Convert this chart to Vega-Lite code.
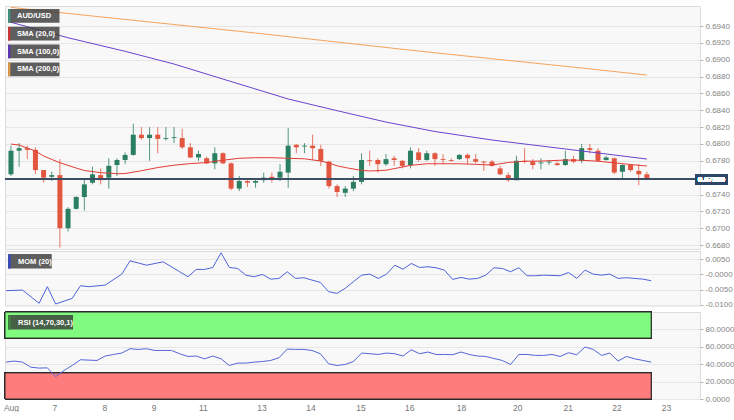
{
  "$schema": "https://vega.github.io/schema/vega-lite/v6.json",
  "padding": {"left": 2, "top": 5, "right": 0, "bottom": 0},
  "background": "white",
  "config": {
    "view": {"fill": "#f8f8f8", "stroke": "#dcdcdc"},
    "font": "Liberation Sans",
    "axis": {"labelFont": "Liberation Sans", "labelFontSize": 8, "labelColor": "#858585", "gridColor": "#e6e6e6", "tickColor": "#b5b5b5", "domain": false, "title": null, "labelOverlap": false}
  },
  "datasets": {
    "candles": [
      {"i":0,"o":0.6764,"h":0.6798,"l":0.6762,"c":0.6792},
      {"i":1,"o":0.6792,"h":0.6801,"l":0.6773,"c":0.6795},
      {"i":2,"o":0.6795,"h":0.6798,"l":0.6782,"c":0.6793},
      {"i":3,"o":0.6793,"h":0.6796,"l":0.6764,"c":0.6769},
      {"i":4,"o":0.6769,"h":0.6769,"l":0.6754,"c":0.6760},
      {"i":5,"o":0.6761,"h":0.6767,"l":0.6756,"c":0.6763},
      {"i":6,"o":0.6763,"h":0.6782,"l":0.6677,"c":0.6700},
      {"i":7,"o":0.6700,"h":0.6725,"l":0.6696,"c":0.6723},
      {"i":8,"o":0.6723,"h":0.6738,"l":0.6722,"c":0.6737},
      {"i":9,"o":0.6737,"h":0.6759,"l":0.6721,"c":0.6752},
      {"i":10,"o":0.6754,"h":0.6773,"l":0.6752,"c":0.6764},
      {"i":11,"o":0.6763,"h":0.6771,"l":0.6752,"c":0.6757},
      {"i":12,"o":0.6760,"h":0.6783,"l":0.6747,"c":0.6774},
      {"i":13,"o":0.6775,"h":0.6783,"l":0.6762,"c":0.6781},
      {"i":14,"o":0.6781,"h":0.6790,"l":0.6776,"c":0.6787},
      {"i":15,"o":0.6787,"h":0.6824,"l":0.6786,"c":0.6811},
      {"i":16,"o":0.6811,"h":0.6820,"l":0.6805,"c":0.6807},
      {"i":17,"o":0.6807,"h":0.6820,"l":0.6780,"c":0.6811},
      {"i":18,"o":0.6811,"h":0.6820,"l":0.6789,"c":0.6806},
      {"i":19,"o":0.6806,"h":0.6820,"l":0.6804,"c":0.6807},
      {"i":20,"o":0.6807,"h":0.6820,"l":0.6801,"c":0.6808},
      {"i":21,"o":0.6807,"h":0.6818,"l":0.6794,"c":0.6796},
      {"i":22,"o":0.6796,"h":0.6801,"l":0.6783,"c":0.6784},
      {"i":23,"o":0.6784,"h":0.6792,"l":0.6780,"c":0.6788},
      {"i":24,"o":0.6783,"h":0.6785,"l":0.6776,"c":0.6777},
      {"i":25,"o":0.6777,"h":0.6796,"l":0.6770,"c":0.6789},
      {"i":26,"o":0.6789,"h":0.6790,"l":0.6776,"c":0.6777},
      {"i":27,"o":0.6777,"h":0.6778,"l":0.6745,"c":0.6747},
      {"i":28,"o":0.6747,"h":0.6762,"l":0.6744,"c":0.6756},
      {"i":29,"o":0.6756,"h":0.6757,"l":0.6749,"c":0.6754},
      {"i":30,"o":0.6754,"h":0.6758,"l":0.6748,"c":0.6756},
      {"i":31,"o":0.6757,"h":0.6766,"l":0.6754,"c":0.6760},
      {"i":32,"o":0.6761,"h":0.6766,"l":0.6754,"c":0.6758},
      {"i":33,"o":0.6760,"h":0.6776,"l":0.6756,"c":0.6767},
      {"i":34,"o":0.6766,"h":0.6819,"l":0.6748,"c":0.6798},
      {"i":35,"o":0.6799,"h":0.6800,"l":0.6789,"c":0.6796},
      {"i":36,"o":0.6797,"h":0.6801,"l":0.6789,"c":0.6798},
      {"i":37,"o":0.6798,"h":0.6811,"l":0.6781,"c":0.6795},
      {"i":38,"o":0.6794,"h":0.6799,"l":0.6774,"c":0.6780},
      {"i":39,"o":0.6779,"h":0.6780,"l":0.6747,"c":0.6750},
      {"i":40,"o":0.6750,"h":0.6752,"l":0.6737,"c":0.6743},
      {"i":41,"o":0.6742,"h":0.6750,"l":0.6737,"c":0.6747},
      {"i":42,"o":0.6747,"h":0.6762,"l":0.6744,"c":0.6755},
      {"i":43,"o":0.6755,"h":0.6789,"l":0.6752,"c":0.6781},
      {"i":44,"o":0.6781,"h":0.6792,"l":0.6774,"c":0.6780},
      {"i":45,"o":0.6781,"h":0.6783,"l":0.6766,"c":0.6776},
      {"i":46,"o":0.6776,"h":0.6788,"l":0.6774,"c":0.6782},
      {"i":47,"o":0.6783,"h":0.6786,"l":0.6774,"c":0.6781},
      {"i":48,"o":0.6780,"h":0.6781,"l":0.6771,"c":0.6774},
      {"i":49,"o":0.6775,"h":0.6796,"l":0.6771,"c":0.6792},
      {"i":50,"o":0.6790,"h":0.6795,"l":0.6779,"c":0.6781},
      {"i":51,"o":0.6781,"h":0.6792,"l":0.6780,"c":0.6789},
      {"i":52,"o":0.6789,"h":0.6790,"l":0.6774,"c":0.6782},
      {"i":53,"o":0.6782,"h":0.6788,"l":0.6776,"c":0.6781},
      {"i":54,"o":0.6781,"h":0.6783,"l":0.6779,"c":0.6780},
      {"i":55,"o":0.6782,"h":0.6788,"l":0.6781,"c":0.6787},
      {"i":56,"o":0.6787,"h":0.6789,"l":0.6776,"c":0.6783},
      {"i":57,"o":0.6782,"h":0.6788,"l":0.6777,"c":0.6779},
      {"i":58,"o":0.6779,"h":0.6780,"l":0.6768,"c":0.6778},
      {"i":59,"o":0.6779,"h":0.6781,"l":0.6773,"c":0.6774},
      {"i":60,"o":0.6771,"h":0.6774,"l":0.6763,"c":0.6764},
      {"i":61,"o":0.6763,"h":0.6766,"l":0.6755,"c":0.6757},
      {"i":62,"o":0.6757,"h":0.6786,"l":0.6757,"c":0.6780},
      {"i":63,"o":0.6780,"h":0.6795,"l":0.6777,"c":0.6779},
      {"i":64,"o":0.6779,"h":0.6782,"l":0.6770,"c":0.6775},
      {"i":65,"o":0.6777,"h":0.6783,"l":0.6770,"c":0.6778},
      {"i":66,"o":0.6778,"h":0.6781,"l":0.6775,"c":0.6779},
      {"i":67,"o":0.6777,"h":0.6779,"l":0.6774,"c":0.6775},
      {"i":68,"o":0.6775,"h":0.6792,"l":0.6774,"c":0.6782},
      {"i":69,"o":0.6782,"h":0.6786,"l":0.6777,"c":0.6779},
      {"i":70,"o":0.6780,"h":0.6800,"l":0.6777,"c":0.6795},
      {"i":71,"o":0.6795,"h":0.6800,"l":0.6789,"c":0.6793},
      {"i":72,"o":0.6792,"h":0.6795,"l":0.6779,"c":0.6780},
      {"i":73,"o":0.6781,"h":0.6786,"l":0.6780,"c":0.6784},
      {"i":74,"o":0.6783,"h":0.6784,"l":0.6764,"c":0.6766},
      {"i":75,"o":0.6767,"h":0.6776,"l":0.6758,"c":0.6775},
      {"i":76,"o":0.6775,"h":0.6776,"l":0.6767,"c":0.6769},
      {"i":77,"o":0.6768,"h":0.6776,"l":0.6751,"c":0.6764},
      {"i":78,"o":0.6764,"h":0.6767,"l":0.6758,"c":0.6758}
    ],
    "sma": [
      {"s":"SMA (200,0)","i":0,"v":0.69622},{"s":"SMA (200,0)","i":10,"v":0.69519},{"s":"SMA (200,0)","i":20,"v":0.69418},
      {"s":"SMA (200,0)","i":30,"v":0.69317},{"s":"SMA (200,0)","i":40,"v":0.69210},{"s":"SMA (200,0)","i":50,"v":0.69103},
      {"s":"SMA (200,0)","i":60,"v":0.69002},{"s":"SMA (200,0)","i":70,"v":0.68902},{"s":"SMA (200,0)","i":78,"v":0.68818},
      {"s":"SMA (100,0)","i":0,"v":0.69445},{"s":"SMA (100,0)","i":7,"v":0.69261},{"s":"SMA (100,0)","i":14,"v":0.69100},
      {"s":"SMA (100,0)","i":20,"v":0.68949},{"s":"SMA (100,0)","i":27,"v":0.68741},{"s":"SMA (100,0)","i":34,"v":0.68534},
      {"s":"SMA (100,0)","i":40,"v":0.68395},{"s":"SMA (100,0)","i":46,"v":0.68260},{"s":"SMA (100,0)","i":52,"v":0.68148},
      {"s":"SMA (100,0)","i":59,"v":0.68047},{"s":"SMA (100,0)","i":66,"v":0.67964},{"s":"SMA (100,0)","i":72,"v":0.67893},
      {"s":"SMA (100,0)","i":78,"v":0.67821},
      {"s":"SMA (20,0)","i":0,"v":0.67999},{"s":"SMA (20,0)","i":1,"v":0.67987},{"s":"SMA (20,0)","i":3,"v":0.67916},
      {"s":"SMA (20,0)","i":4,"v":0.67857},{"s":"SMA (20,0)","i":6,"v":0.67777},{"s":"SMA (20,0)","i":8,"v":0.67714},
      {"s":"SMA (20,0)","i":9,"v":0.67685},{"s":"SMA (20,0)","i":11,"v":0.67659},{"s":"SMA (20,0)","i":13,"v":0.67647},
      {"s":"SMA (20,0)","i":14,"v":0.67649},{"s":"SMA (20,0)","i":16,"v":0.67682},{"s":"SMA (20,0)","i":18,"v":0.67720},
      {"s":"SMA (20,0)","i":20,"v":0.67748},{"s":"SMA (20,0)","i":22,"v":0.67767},{"s":"SMA (20,0)","i":24,"v":0.67779},
      {"s":"SMA (20,0)","i":26,"v":0.67807},{"s":"SMA (20,0)","i":28,"v":0.67830},{"s":"SMA (20,0)","i":30,"v":0.67837},
      {"s":"SMA (20,0)","i":32,"v":0.67837},{"s":"SMA (20,0)","i":34,"v":0.67830},{"s":"SMA (20,0)","i":36,"v":0.67824},
      {"s":"SMA (20,0)","i":38,"v":0.67797},{"s":"SMA (20,0)","i":39,"v":0.67774},{"s":"SMA (20,0)","i":40,"v":0.67741},
      {"s":"SMA (20,0)","i":41,"v":0.67720},{"s":"SMA (20,0)","i":43,"v":0.67686},{"s":"SMA (20,0)","i":44,"v":0.67679},
      {"s":"SMA (20,0)","i":46,"v":0.67688},{"s":"SMA (20,0)","i":48,"v":0.67726},{"s":"SMA (20,0)","i":49,"v":0.67746},
      {"s":"SMA (20,0)","i":51,"v":0.67765},{"s":"SMA (20,0)","i":53,"v":0.67765},{"s":"SMA (20,0)","i":55,"v":0.67765},
      {"s":"SMA (20,0)","i":57,"v":0.67758},{"s":"SMA (20,0)","i":59,"v":0.67750},{"s":"SMA (20,0)","i":61,"v":0.67780},
      {"s":"SMA (20,0)","i":63,"v":0.67795},{"s":"SMA (20,0)","i":65,"v":0.67797},{"s":"SMA (20,0)","i":68,"v":0.67809},
      {"s":"SMA (20,0)","i":70,"v":0.67807},{"s":"SMA (20,0)","i":72,"v":0.67795},{"s":"SMA (20,0)","i":74,"v":0.67776},
      {"s":"SMA (20,0)","i":76,"v":0.67756},{"s":"SMA (20,0)","i":78,"v":0.67738}
    ],
    "mom": [
      {"i":0,"v":-0.00533},{"i":2,"v":-0.00513},{"i":4,"v":-0.00948},{"i":5,"v":-0.00402},{"i":6,"v":-0.00971},
      {"i":8,"v":-0.00785},{"i":9,"v":-0.00370},{"i":10,"v":-0.00402},{"i":12,"v":-0.00350},{"i":14,"v":0.00010},
      {"i":15,"v":0.00448},{"i":17,"v":0.00304},{"i":19,"v":0.00415},{"i":21,"v":0.00088},{"i":22,"v":-0.00075},
      {"i":23,"v":0.00164},{"i":24,"v":0.00164},{"i":25,"v":0.00229},{"i":26,"v":0.00710},{"i":27,"v":0.00229},
      {"i":28,"v":0.00196},{"i":29,"v":-0.00023},{"i":30,"v":-0.00075},{"i":31,"v":0.0},{"i":32,"v":-0.00154},
      {"i":33,"v":-0.00131},{"i":34,"v":0.00088},{"i":35,"v":-0.00131},{"i":36,"v":-0.00108},{"i":37,"v":-0.00186},
      {"i":38,"v":-0.00262},{"i":39,"v":-0.00566},{"i":40,"v":-0.00621},{"i":41,"v":-0.00458},{"i":42,"v":-0.00239},
      {"i":43,"v":-0.00023},{"i":44,"v":0.00010},{"i":45,"v":-0.00131},{"i":46,"v":0.00010},{"i":47,"v":0.00304},
      {"i":48,"v":0.00173},{"i":49,"v":0.00360},{"i":50,"v":0.00229},{"i":51,"v":0.00252},{"i":52,"v":0.00219},
      {"i":53,"v":0.00141},{"i":54,"v":-0.00164},{"i":55,"v":-0.00098},{"i":56,"v":-0.00154},{"i":57,"v":-0.00131},
      {"i":58,"v":-0.00023},{"i":59,"v":0.00219},{"i":60,"v":0.00196},{"i":61,"v":0.00088},{"i":62,"v":0.00219},
      {"i":63,"v":-0.00043},{"i":64,"v":-0.00043},{"i":65,"v":-0.00023},{"i":67,"v":-0.00043},{"i":68,"v":0.00065},
      {"i":69,"v":-0.00131},{"i":70,"v":0.00141},{"i":71,"v":0.00010},{"i":72,"v":-0.00023},{"i":73,"v":0.00010},
      {"i":74,"v":-0.00131},{"i":75,"v":-0.00108},{"i":77,"v":-0.00154},{"i":78,"v":-0.00206}
    ],
    "rsi": [
      {"i":0,"v":42.4},{"i":1,"v":43.6},{"i":2,"v":42.4},{"i":3,"v":36.6},{"i":4,"v":35.5},{"i":5,"v":35.8},
      {"i":6,"v":25.8},{"i":7,"v":32.7},{"i":8,"v":38.5},{"i":9,"v":45.1},{"i":11,"v":44.3},{"i":12,"v":49.4},
      {"i":13,"v":51.2},{"i":14,"v":52.8},{"i":15,"v":57.8},{"i":16,"v":57.0},{"i":17,"v":57.8},{"i":18,"v":55.8},
      {"i":19,"v":55.8},{"i":20,"v":55.8},{"i":21,"v":52.0},{"i":22,"v":48.9},{"i":23,"v":49.4},{"i":24,"v":46.2},
      {"i":25,"v":49.4},{"i":26,"v":46.2},{"i":27,"v":38.5},{"i":28,"v":41.3},{"i":29,"v":41.3},{"i":30,"v":42.4},
      {"i":31,"v":43.1},{"i":32,"v":44.3},{"i":33,"v":47.4},{"i":34,"v":57.4},{"i":35,"v":57.0},{"i":36,"v":57.0},
      {"i":37,"v":55.8},{"i":38,"v":52.0},{"i":39,"v":40.5},{"i":40,"v":38.5},{"i":41,"v":39.7},{"i":42,"v":43.1},
      {"i":43,"v":52.8},{"i":44,"v":52.0},{"i":45,"v":51.2},{"i":46,"v":52.8},{"i":47,"v":52.0},{"i":48,"v":49.4},
      {"i":49,"v":56.6},{"i":50,"v":52.0},{"i":51,"v":54.0},{"i":52,"v":51.2},{"i":53,"v":51.2},{"i":54,"v":50.9},
      {"i":55,"v":54.0},{"i":56,"v":51.2},{"i":57,"v":49.4},{"i":58,"v":48.9},{"i":60,"v":44.3},{"i":61,"v":39.7},
      {"i":62,"v":51.2},{"i":63,"v":51.2},{"i":64,"v":50.1},{"i":65,"v":50.1},{"i":66,"v":51.2},{"i":67,"v":48.9},
      {"i":68,"v":53.2},{"i":69,"v":50.9},{"i":70,"v":59.8},{"i":71,"v":57.0},{"i":72,"v":50.1},{"i":73,"v":52.8},
      {"i":74,"v":43.6},{"i":75,"v":48.9},{"i":76,"v":46.2},{"i":77,"v":44.3},{"i":78,"v":42.4}
    ]
  },
  "spacing": 0,
  "resolve": {"scale": {"color": "independent", "x": "independent", "y": "independent"}, "legend": {"color": "independent"}},
  "vconcat": [
    {
      "width": 695,
      "height": 243,
      "layer": [
        {
          "data": {"name": "candles"},
          "mark": {"type": "rule", "clip": true, "strokeWidth": 1, "opacity": 0.8},
          "encoding": {
            "x": {"field": "i", "type": "quantitative", "scale": {"domain": [-0.12, 83.9], "nice": false, "zero": false}, "axis": null},
            "y": {"field": "l", "type": "quantitative", "scale": {"domain": [0.66753, 0.69638], "nice": false, "zero": false},
              "axis": {"orient": "right", "values": [0.668, 0.670, 0.672, 0.674, 0.678, 0.680, 0.682, 0.684, 0.686, 0.688, 0.690, 0.692, 0.694], "format": ".4f", "tickSize": 3, "labelPadding": 2, "grid": true, "labelOverlap": false, "labelSeparation": 0}},
            "y2": {"field": "h"},
            "color": {"condition": {"test": "datum.c >= datum.o", "value": "#2a7f62"}, "value": "#e2553f"}
          }
        },
        {
          "data": {"name": "candles"},
          "mark": {"type": "bar", "clip": true, "size": 5},
          "encoding": {
            "x": {"field": "i", "type": "quantitative", "scale": {"domain": [-0.12, 83.9], "nice": false, "zero": false}, "axis": null},
            "y": {"field": "o", "type": "quantitative", "scale": {"domain": [0.66753, 0.69638], "nice": false, "zero": false},
              "axis": {"orient": "right", "values": [0.668, 0.670, 0.672, 0.674, 0.678, 0.680, 0.682, 0.684, 0.686, 0.688, 0.690, 0.692, 0.694], "format": ".4f", "tickSize": 3, "labelPadding": 2, "grid": true, "labelOverlap": false, "labelSeparation": 0}},
            "y2": {"field": "c"},
            "color": {"condition": {"test": "datum.c >= datum.o", "value": "#2a7f62"}, "value": "#e2553f"}
          }
        },
        {
          "data": {"name": "candles"},
          "mark": {"type": "rule", "color": "#3f4f66", "strokeWidth": 1},
          "encoding": {
            "y": {"datum": 0.6758, "type": "quantitative", "scale": {"domain": [0.66753, 0.69638], "nice": false, "zero": false},
              "axis": {"orient": "right", "values": [0.668, 0.670, 0.672, 0.674, 0.678, 0.680, 0.682, 0.684, 0.686, 0.688, 0.690, 0.692, 0.694], "format": ".4f", "tickSize": 3, "labelPadding": 2, "grid": true, "labelOverlap": false, "labelSeparation": 0}}
          }
        },
        {
          "data": {"name": "sma"},
          "mark": {"type": "line", "strokeWidth": 1, "clip": true},
          "encoding": {
            "x": {"field": "i", "type": "quantitative", "scale": {"domain": [-0.12, 83.9], "nice": false, "zero": false}, "axis": null},
            "y": {"field": "v", "type": "quantitative", "scale": {"domain": [0.66753, 0.69638], "nice": false, "zero": false},
              "axis": {"orient": "right", "values": [0.668, 0.670, 0.672, 0.674, 0.678, 0.680, 0.682, 0.684, 0.686, 0.688, 0.690, 0.692, 0.694], "format": ".4f", "tickSize": 3, "labelPadding": 2, "grid": true, "labelOverlap": false, "labelSeparation": 0}},
            "color": {
              "field": "s", "type": "nominal",
              "scale": {"domain": ["AUD/USD", "SMA (20,0)", "SMA (100,0)", "SMA (200,0)"], "range": ["#2f8a78", "#e23c36", "#6a44d0", "#f6a45c"]},
              "legend": {
                "title": null, "orient": "top-left", "offset": 3, "padding": 0, "rowPadding": 3.8, "zindex": 1,
                "symbolType": "M-1,-1H-0.7V1H-1Z", "symbolSize": 182, "symbolStrokeWidth": 0,
                "labelColor": "white", "labelFont": "Liberation Sans", "labelFontSize": 7.5, "labelFontWeight": "bold", "labelOffset": -5,
                "encode": {
                  "symbols": {"update": {"fill": {"signal": "datum.value == 'AUD/USD' ? '#3a9a86' : datum.value == 'SMA (20,0)' ? '#d8302c' : datum.value == 'SMA (100,0)' ? '#5a2fc0' : '#f0a040'"}, "fillOpacity": {"value": 1}, "strokeWidth": {"value": 0}}},
                  "entries": {"update": {"fill": {"value": "#3c3c3c"}, "fillOpacity": {"value": 0.82},
                  "width": {"signal": "datum.label == 'AUD/USD' ? 52 : datum.label == 'SMA (20,0)' ? 55 : 59"}, "height": {"value": 13.5}}}}
              }
            }
          }
        },
        {
          "data": {"name": "candles"},
          "mark": {"type": "rect", "fill": "#2c4768"},
          "encoding": {
            "x": {"datum": 83.95, "type": "quantitative", "scale": {"domain": [-0.12, 83.9], "nice": false, "zero": false}, "axis": null},
            "x2": {"datum": 87.9},
            "y": {"datum": 0.67643, "type": "quantitative", "scale": {"domain": [0.66753, 0.69638], "nice": false, "zero": false},
              "axis": {"orient": "right", "values": [0.668, 0.670, 0.672, 0.674, 0.678, 0.680, 0.682, 0.684, 0.686, 0.688, 0.690, 0.692, 0.694], "format": ".4f", "tickSize": 3, "labelPadding": 2, "grid": true, "labelOverlap": false, "labelSeparation": 0}},
            "y2": {"datum": 0.67513}
          }
        },
        {
          "data": {"name": "candles"},
          "mark": {"type": "text", "text": "0.67580", "color": "white", "fontSize": 7.5, "fontWeight": "bold", "font": "Liberation Sans"},
          "encoding": {
            "x": {"datum": 85.92, "type": "quantitative", "scale": {"domain": [-0.12, 83.9], "nice": false, "zero": false}, "axis": null},
            "y": {"datum": 0.67578, "type": "quantitative", "scale": {"domain": [0.66753, 0.69638], "nice": false, "zero": false},
              "axis": {"orient": "right", "values": [0.668, 0.670, 0.672, 0.674, 0.678, 0.680, 0.682, 0.684, 0.686, 0.688, 0.690, 0.692, 0.694], "format": ".4f", "tickSize": 3, "labelPadding": 2, "grid": true, "labelOverlap": false, "labelSeparation": 0}}
          }
        }
      ]
    },
    {
      "spacing": 1,
      "resolve": {"scale": {"color": "independent", "x": "independent", "y": "independent"}, "legend": {"color": "independent"}},
      "vconcat": [
        {
          "width": 695,
          "height": 54.5,
          "data": {"name": "mom"},
          "mark": {"type": "line", "strokeWidth": 1},
          "encoding": {
            "x": {"field": "i", "type": "quantitative", "scale": {"domain": [-0.12, 83.9], "nice": false, "zero": false}, "axis": null},
            "y": {"field": "v", "type": "quantitative", "scale": {"domain": [-0.0102, 0.0077], "nice": false, "zero": false},
              "axis": {"orient": "right", "values": [-0.01, -0.005, 0, 0.005], "labelExpr": "(datum.value < 0.00001 ? '-' : '') + format(abs(datum.value), '.4f')", "tickSize": 3, "labelPadding": 2, "grid": true, "labelOverlap": false, "labelSeparation": 0}},
            "color": {
              "datum": "MOM (20)", "type": "nominal",
              "scale": {"domain": ["MOM (20)"], "range": ["#4f62d8"]},
              "legend": {
                "title": null, "orient": "top-left", "offset": 3, "padding": 0, "zindex": 1,
                "symbolType": "M-1,-1H-0.7V1H-1Z", "symbolSize": 200, "symbolStrokeWidth": 0,
                "labelColor": "white", "labelFont": "Liberation Sans", "labelFontSize": 7.5, "labelFontWeight": "bold", "labelOffset": -5,
                "encode": {
                  "symbols": {"update": {"fill": {"value": "#2f45d0"}, "fillOpacity": {"value": 1}, "strokeWidth": {"value": 0}}},
                  "entries": {"update": {"fill": {"value": "#3c3c3c"}, "fillOpacity": {"value": 0.82}, "width": {"value": 52}, "height": {"value": 14}}}}
              }
            }
          }
        },
        {
          "width": 695,
          "height": 87,
          "layer": [
            {
              "data": {"name": "rsi"},
              "mark": {"type": "rect", "fill": "#80fb80", "stroke": "#2b2b2b", "strokeWidth": 1},
              "encoding": {
                "x": {"datum": -0.12, "type": "quantitative", "scale": {"domain": [-0.12, 83.9], "nice": false, "zero": false},
                  "axis": {"values": [0.6, 5.85, 11.9, 17.85, 23.8, 30.9, 36.8, 42.85, 48.75, 55, 61.8, 67.9, 73.8, 79.8],
                    "labelExpr": "['Aug','7','8','9','11','13','14','15','16','18','20','21','22','23'][indexof([0.6, 5.85, 11.9, 17.85, 23.8, 30.9, 36.8, 42.85, 48.75, 55, 61.8, 67.9, 73.8, 79.8], datum.value)]",
                    "ticks": false, "grid": false, "labelFlush": false, "labelPadding": 4, "labelColor": "#777777", "labelFontSize": 8.5, "labelOverlap": false}},
                "x2": {"datum": 78},
                "y": {"datum": 70, "type": "quantitative", "scale": {"domain": [0, 100], "nice": false, "zero": false},
                  "axis": {"orient": "right", "values": [0, 20, 40, 60, 80], "format": ".4f", "tickSize": 3, "labelPadding": 2, "grid": true, "labelOverlap": false, "labelSeparation": 0}},
                "y2": {"datum": 100}
              }
            },
            {
              "data": {"name": "rsi"},
              "mark": {"type": "rect", "fill": "#ff7c7c", "stroke": "#2b2b2b", "strokeWidth": 1},
              "encoding": {
                "x": {"datum": -0.12, "type": "quantitative", "scale": {"domain": [-0.12, 83.9], "nice": false, "zero": false},
                  "axis": {"values": [0.6, 5.85, 11.9, 17.85, 23.8, 30.9, 36.8, 42.85, 48.75, 55, 61.8, 67.9, 73.8, 79.8],
                    "labelExpr": "['Aug','7','8','9','11','13','14','15','16','18','20','21','22','23'][indexof([0.6, 5.85, 11.9, 17.85, 23.8, 30.9, 36.8, 42.85, 48.75, 55, 61.8, 67.9, 73.8, 79.8], datum.value)]",
                    "ticks": false, "grid": false, "labelFlush": false, "labelPadding": 4, "labelColor": "#777777", "labelFontSize": 8.5, "labelOverlap": false}},
                "x2": {"datum": 78},
                "y": {"datum": 0, "type": "quantitative", "scale": {"domain": [0, 100], "nice": false, "zero": false},
                  "axis": {"orient": "right", "values": [0, 20, 40, 60, 80], "format": ".4f", "tickSize": 3, "labelPadding": 2, "grid": true, "labelOverlap": false, "labelSeparation": 0}},
                "y2": {"datum": 30}
              }
            },
            {
              "data": {"name": "rsi"},
              "mark": {"type": "line", "strokeWidth": 1},
              "encoding": {
                "x": {"field": "i", "type": "quantitative", "scale": {"domain": [-0.12, 83.9], "nice": false, "zero": false},
                  "axis": {"values": [0.6, 5.85, 11.9, 17.85, 23.8, 30.9, 36.8, 42.85, 48.75, 55, 61.8, 67.9, 73.8, 79.8],
                    "labelExpr": "['Aug','7','8','9','11','13','14','15','16','18','20','21','22','23'][indexof([0.6, 5.85, 11.9, 17.85, 23.8, 30.9, 36.8, 42.85, 48.75, 55, 61.8, 67.9, 73.8, 79.8], datum.value)]",
                    "ticks": false, "grid": false, "labelFlush": false, "labelPadding": 4, "labelColor": "#777777", "labelFontSize": 8.5, "labelOverlap": false}},
                "y": {"field": "v", "type": "quantitative", "scale": {"domain": [0, 100], "nice": false, "zero": false},
                  "axis": {"orient": "right", "values": [0, 20, 40, 60, 80], "format": ".4f", "tickSize": 3, "labelPadding": 2, "grid": true, "labelOverlap": false, "labelSeparation": 0}},
                "color": {
                  "datum": "RSI (14,70,30,1)", "type": "nominal",
                  "scale": {"domain": ["RSI (14,70,30,1)"], "range": ["#5565d8"]},
                  "legend": {
                    "title": null, "orient": "top-left", "offset": 2.5, "padding": 0, "zindex": 1,
                    "symbolType": "M-1,-1H-0.7V1H-1Z", "symbolSize": 200, "symbolStrokeWidth": 0,
                    "labelColor": "white", "labelFont": "Liberation Sans", "labelFontSize": 7.5, "labelFontWeight": "bold", "labelOffset": -5,
                    "encode": {
                      "symbols": {"update": {"fill": {"value": "#3d8c3d"}, "fillOpacity": {"value": 1}, "strokeWidth": {"value": 0}}},
                      "entries": {"update": {"fill": {"value": "#3c3c3c"}, "fillOpacity": {"value": 0.82}, "width": {"value": 72}, "height": {"value": 14}}}}
                  }
                }
              }
            }
          ]
        }
      ]
    }
  ]
}
